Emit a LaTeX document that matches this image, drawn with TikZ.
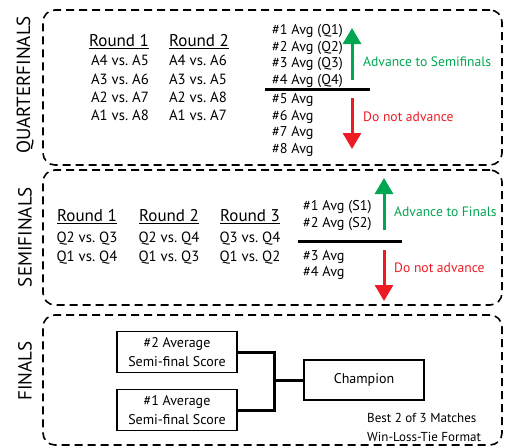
\documentclass[tikz,border=0pt]{standalone}
\usepackage{fontspec}
\setmainfont{PT Sans}
\usetikzlibrary{positioning,arrows.meta}
\definecolor{goGreen}{RGB}{0,166,81}
\definecolor{stopRed}{RGB}{237,28,36}
\frenchspacing

\begin{document}
\begin{tikzpicture}[x=1pt,y=-1pt,
        stage/.style={draw, line width=1.6pt, dash pattern=on 8pt off 5pt, rounded corners=12pt, minimum width=459pt},
        stagename/.style={rotate=90, inner sep=0pt, font=\fontsize{19}{19}\selectfont},
        roundhead/.style={inner sep=0pt, font=\fontsize{17}{18}\selectfont},
        games/.style={inner sep=0pt, align=center, font=\fontsize{14.8}{18.3}\selectfont},
        ranks/.style={inner sep=0pt, anchor=west, align=left, font=\fontsize{14.2}{16.8}\selectfont},
        note/.style={inner sep=0pt, anchor=west, font=\fontsize{13.6}{16}\selectfont},
        divider/.style={line width=3pt},
        advance/.style={goGreen, line width=3pt, -{Triangle[length=16pt, width=18pt]}},
        drop/.style={stopRed, line width=3pt, -{Triangle[length=16pt, width=18pt]}},
        seed/.style={draw, line width=1.4pt, minimum width=120pt, minimum height=41pt, align=center, font=\fontsize{14}{19}\selectfont},
        bracket/.style={line width=3pt}
    ]
        \useasboundingbox (0,0) rectangle (510,447);

        % stage frames
        \node[stage, minimum height=155pt] (qfbox) at (272.5,87.5) {};
        \node[stage, minimum height=135pt] (sfbox) at (272.5,237.5) {};
        \node[stage, minimum height=130pt] (fbox) at (272.5,380) {};
        \node[stagename] (qfname) at (25,85) {QUARTERFINALS};
        \node[stagename] (sfname) at (25,237) {SEMIFINALS};
        \node[stagename] (fname) at (25,371) {FINALS};

        % quarterfinals
        \node[roundhead] (qr1) at (119,42) {\underline{Round 1}};
        \node[roundhead] (qr2) at (199,42) {\underline{Round 2}};
        \node[games] (qg1) at (120,88) {A4 vs. A5\\A3 vs. A6\\A2 vs. A7\\A1 vs. A8};
        \node[games] (qg2) at (198,88) {A4 vs. A6\\A3 vs. A5\\A2 vs. A8\\A1 vs. A7};
        \node[ranks] (qtop) at (272,56) {\#1 Avg (Q1)\\\#2 Avg (Q2)\\\#3 Avg (Q3)\\\#4 Avg (Q4)};
        \node[ranks] (qbot) at (272,125) {\#5 Avg\\\#6 Avg\\\#7 Avg\\\#8 Avg};
        \coordinate (qcutl) at (265,89);
        \coordinate (qcutr) at (370,89);
        \draw[divider] (qcutl) -- (qcutr);
        \coordinate (qup0) at (352,80);
        \coordinate (qup1) at (352,28);
        \coordinate (qdn0) at (352,98);
        \coordinate (qdn1) at (352,149);
        \draw[advance] (qup0) -- (qup1);
        \draw[drop] (qdn0) -- (qdn1);
        \node[note, goGreen] (qadv) at (363,62) {Advance to Semifinals};
        \node[note, stopRed] (qstay) at (363,117) {Do not advance};

        % semifinals
        \node[roundhead] (sr1) at (87,217) {\underline{Round 1}};
        \node[roundhead] (sr2) at (169,217) {\underline{Round 2}};
        \node[roundhead] (sr3) at (250,217) {\underline{Round 3}};
        \node[games] (sg1) at (87,248) {Q2 vs. Q3\\Q1 vs. Q4};
        \node[games] (sg2) at (169,248) {Q2 vs. Q4\\Q1 vs. Q3};
        \node[games] (sg3) at (250,248) {Q3 vs. Q4\\Q1 vs. Q2};
        \node[ranks] (stop) at (303,215.5) {\#1 Avg (S1)\\\#2 Avg (S2)};
        \node[ranks] (sbot) at (303,265) {\#3 Avg\\\#4 Avg};
        \coordinate (scutl) at (298,241);
        \coordinate (scutr) at (402,241);
        \draw[divider] (scutl) -- (scutr);
        \coordinate (sup0) at (384,230);
        \coordinate (sup1) at (384,178);
        \coordinate (sdn0) at (384,250);
        \coordinate (sdn1) at (384,301);
        \draw[advance] (sup0) -- (sup1);
        \draw[drop] (sdn0) -- (sdn1);
        \node[note, goGreen] (sadv) at (394,212) {Advance to Finals};
        \node[note, stopRed] (sstay) at (394,268) {Do not advance};

        % finals
        \node[seed] (fin2) at (177,352) {\#2 Average\\Semi-final Score};
        \node[seed] (fin1) at (177,410) {\#1 Average\\Semi-final Score};
        \node[seed, minimum height=40pt] (champ) at (364,380) {Champion};
        \coordinate (join) at (274,380);
        \draw[bracket] (fin2.east) -| (join) |- (fin1.east);
        \draw[bracket] (join) -- (champ.west);
        \node[note, align=left, font=\fontsize{13}{19}\selectfont] (rules) at (367,427.5) {Best 2 of 3 Matches\\Win-Loss-Tie Format};
    \end{tikzpicture}
\end{document}
